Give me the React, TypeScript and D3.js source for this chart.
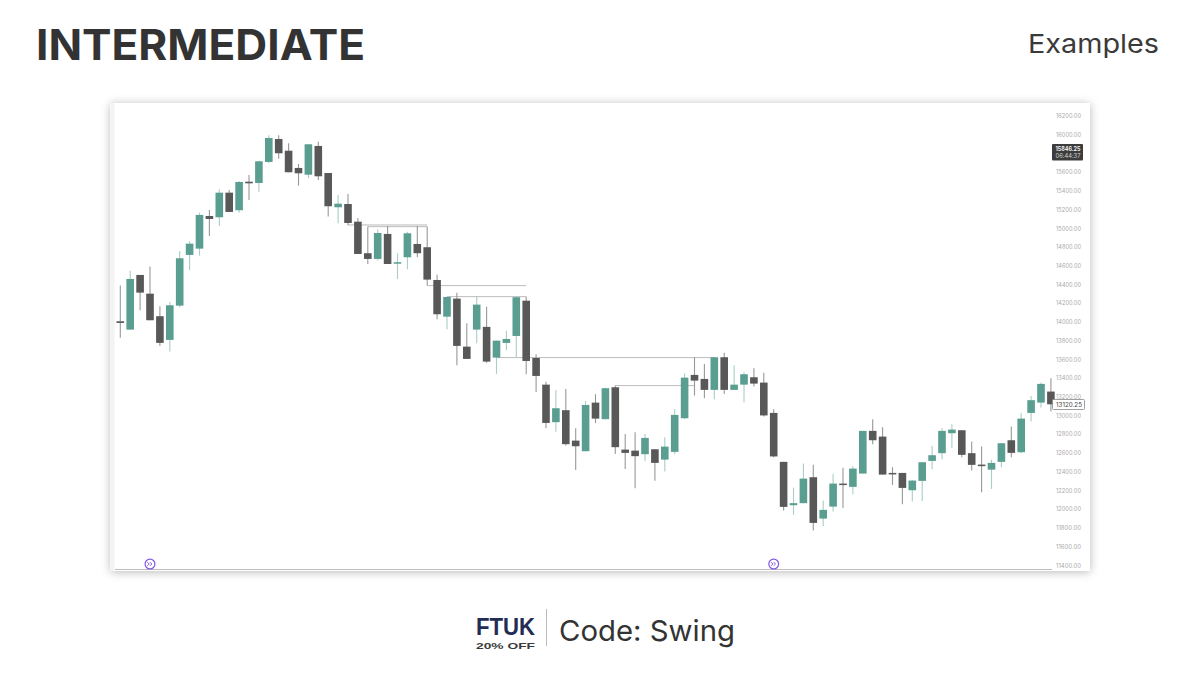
import React, { useEffect, useRef } from "react";
import * as d3 from "d3";

const opens = [14007,13918,14502,14302,14061,13808,14174,14716,14783,15132,15118,15381,15193,15498,15484,15709,15954,15829,15645,15573,15880,15591,15225,15260,15071,14734,14673,14940,14623,14691,14833,14798,14448,14056,14249,13736,13918,13947,13619,13776,13850,14227,13615,13330,12929,13057,12732,12619,13138,12961,13302,12636,12625,12587,12640,12529,12612,12971,13434,13391,13274,13623,13274,13330,13409,13352,13028,12505,12042,12064,12341,11899,12027,12273,12238,12380,12836,12775,12387,12387,12202,12302,12515,12598,12811,12843,12598,12476,12422,12505,12736,12608,13028,13138,13256];
const closes = [13989,14459,14313,14018,13776,14178,14680,14836,15143,15100,15381,15175,15495,15481,15716,15965,15802,15599,15588,15898,15556,15236,15263,15057,14726,14673,14950,14619,14638,14947,14734,14452,14082,14267,13744,13605,14185,13576,13800,13818,14264,13583,13423,12921,13078,12694,12672,13113,12967,13292,12662,12601,12566,12761,12494,12668,13007,13405,13373,13274,13623,13274,13330,13441,13341,13001,12563,12024,12064,12326,11853,11992,12273,12262,12433,12836,12736,12369,12376,12227,12305,12501,12576,12836,12850,12580,12473,12459,12494,12704,12601,12967,13164,13338,13120];
const highs = [14388,14548,14502,14591,14168,14214,14758,14862,15167,15196,15417,15410,15506,15570,15723,15994,15994,15908,15687,15898,15926,15591,15356,15367,15107,15018,14990,15025,14734,14964,15025,15018,14505,14267,14313,13986,14270,14163,13800,13907,14278,14270,13655,13362,13274,13284,12865,13156,13228,13298,13320,12804,12822,12804,12640,12769,13071,13452,13623,13551,13623,13672,13538,13463,13505,13458,13068,12505,12230,12487,12473,12091,12377,12441,12462,12836,12961,12875,12448,12387,12312,12501,12676,12865,12907,12843,12722,12668,12529,12704,12882,13025,13210,13352,13399];
const lows = [13832,13915,14125,14018,13744,13683,14157,14555,14708,14918,15025,15175,15167,15303,15392,15695,15744,15599,15456,15535,15517,15125,15054,15033,14726,14619,14655,14619,14459,14563,14691,14388,14029,13922,13538,13605,13772,13565,13445,13701,13619,13441,13252,12865,12828,12679,12419,12619,12918,12961,12590,12430,12224,12515,12302,12401,12587,12961,13213,13185,13174,13231,13274,13142,13309,12989,12553,11985,11939,12064,11771,11821,11974,12013,12160,12380,12694,12369,12259,12053,12081,12088,12427,12534,12657,12555,12412,12181,12216,12448,12555,12598,12935,13085,13042];

// swing levels: price, first candle, last candle
const levelPrices = [15036, 15018, 14388, 14270, 13619, 13320];
const levelStarts = [23, 25, 31, 33, 38, 50];
const levelEnds = [31, 31, 41, 41, 60, 58];

const priceTicks = d3.range(11400, 16201, 200).filter((t) => t !== 15800);
const markerCandles = [3, 66];

const GREEN = "#5a9e91";
const DARK = "#585858";
const PURPLE = "#8257e6";
const FONT = "Inter, 'Noto Sans', sans-serif";
const LOGO_FONT = "'Liberation Sans', sans-serif";

const App = () => {
  const svgRef = useRef<SVGSVGElement>(null);

  useEffect(() => {
    const svg = d3.select(svgRef.current);
    svg.selectAll("*").remove();

    const x = d3.scaleLinear().domain([0, 94]).range([120.3, 1050.9]);
    const y = d3.scaleLinear().domain([11400, 16200]).range([565.3, 116]);

    const defs = svg.append("defs");
    const shadow = defs
      .append("filter")
      .attr("id", "card-shadow")
      .attr("x", "-5%")
      .attr("y", "-5%")
      .attr("width", "110%")
      .attr("height", "110%");
    shadow
      .append("feDropShadow")
      .attr("dx", 0)
      .attr("dy", 1)
      .attr("stdDeviation", 5)
      .attr("flood-color", "#000")
      .attr("flood-opacity", 0.28);

    svg.append("rect").attr("width", 1200).attr("height", 675).attr("fill", "#fff");

    // heading
    svg
      .append("text")
      .attr("x", 36)
      .attr("y", 60)
      .attr("font-family", FONT)
      .attr("font-size", 42)
      .attr("font-weight", 700)
      .attr("fill", "#333")
      .attr("textLength", 329)
      .attr("lengthAdjust", "spacingAndGlyphs")
      .text("INTERMEDIATE");
    svg
      .append("text")
      .attr("x", 1028)
      .attr("y", 53)
      .attr("font-family", FONT)
      .attr("font-size", 26)
      .attr("fill", "#3a3a3a")
      .attr("textLength", 131)
      .attr("lengthAdjust", "spacingAndGlyphs")
      .text("Examples");

    // chart card
    svg
      .append("rect")
      .attr("x", 110.5)
      .attr("y", 103)
      .attr("width", 979.5)
      .attr("height", 468)
      .attr("fill", "#fff")
      .attr("filter", "url(#card-shadow)");
    svg
      .append("rect")
      .attr("x", 110.5)
      .attr("y", 103)
      .attr("width", 4)
      .attr("height", 468)
      .attr("fill", "#f3f3f3");
    svg
      .append("line")
      .attr("x1", 115)
      .attr("x2", 1052)
      .attr("y1", 569.5)
      .attr("y2", 569.5)
      .attr("stroke", "#bdbdbd")
      .attr("stroke-width", 1);

    // levels
    const levels = svg.append("g").attr("stroke", "#bcbcbc").attr("stroke-width", 1);
    levelPrices.forEach((p, i) => {
      levels
        .append("line")
        .attr("x1", x(levelStarts[i]))
        .attr("x2", x(levelEnds[i]))
        .attr("y1", y(p))
        .attr("y2", y(p));
    });

    // candles
    const candles = svg
      .append("g")
      .selectAll("g")
      .data(opens.map((o, i) => i))
      .join("g");
    candles
      .append("line")
      .attr("x1", (i) => x(i))
      .attr("x2", (i) => x(i))
      .attr("y1", (i) => y(highs[i]))
      .attr("y2", (i) => y(lows[i]))
      .attr("stroke", (i) => (closes[i] >= opens[i] ? "#a8cec7" : "#989898"))
      .attr("stroke-width", 1.1);
    candles
      .append("rect")
      .attr("x", (i) => x(i) - 3.8)
      .attr("width", 7.6)
      .attr("y", (i) => y(Math.max(opens[i], closes[i])))
      .attr("height", (i) => Math.max(1.5, Math.abs(y(opens[i]) - y(closes[i]))))
      .attr("fill", (i) => (closes[i] >= opens[i] ? GREEN : DARK));

    // price axis
    svg
      .append("g")
      .selectAll("text")
      .data(priceTicks)
      .join("text")
      .attr("x", 1056)
      .attr("y", (t) => y(t) + 2.2)
      .attr("font-family", FONT)
      .attr("font-size", 6)
      .attr("fill", "#aaa")
      .attr("textLength", 25)
      .attr("lengthAdjust", "spacingAndGlyphs")
      .text((t) => `${t}.00`);

    // last price tags
    svg
      .append("rect")
      .attr("x", 1052)
      .attr("y", 144)
      .attr("width", 31)
      .attr("height", 16.5)
      .attr("rx", 1)
      .attr("fill", "#3c3c3c");
    svg
      .append("text")
      .attr("x", 1055.5)
      .attr("y", 150.5)
      .attr("font-family", FONT)
      .attr("font-size", 6)
      .attr("font-weight", 600)
      .attr("fill", "#fff")
      .attr("textLength", 25)
      .attr("lengthAdjust", "spacingAndGlyphs")
      .text("15846.25");
    svg
      .append("text")
      .attr("x", 1055.5)
      .attr("y", 158)
      .attr("font-family", FONT)
      .attr("font-size", 6)
      .attr("fill", "#d5d5d5")
      .attr("textLength", 25)
      .attr("lengthAdjust", "spacingAndGlyphs")
      .text("06:44:37");
    svg
      .append("rect")
      .attr("x", 1052.5)
      .attr("y", 399.5)
      .attr("width", 32)
      .attr("height", 10)
      .attr("rx", 1)
      .attr("fill", "#fff")
      .attr("stroke", "#888")
      .attr("stroke-width", 0.8);
    svg
      .append("text")
      .attr("x", 1056)
      .attr("y", 406.8)
      .attr("font-family", FONT)
      .attr("font-size", 6.2)
      .attr("fill", "#444")
      .attr("textLength", 26)
      .attr("lengthAdjust", "spacingAndGlyphs")
      .text("13120.25");

    // session markers
    const markers = svg
      .append("g")
      .selectAll("g")
      .data(markerCandles)
      .join("g")
      .attr("transform", (c) => `translate(${x(c)},564)`);
    markers
      .append("circle")
      .attr("r", 4.9)
      .attr("fill", "#fff")
      .attr("stroke", PURPLE)
      .attr("stroke-width", 1.2);
    markers
      .append("path")
      .attr("d", d3.line()([[-2.6, -1.8], [-0.8, 0], [-2.6, 1.8]]))
      .attr("fill", "none")
      .attr("stroke", PURPLE)
      .attr("stroke-width", 1);
    markers
      .append("path")
      .attr("d", d3.line()([[0, -1.8], [1.8, 0], [0, 1.8]]))
      .attr("fill", "none")
      .attr("stroke", PURPLE)
      .attr("stroke-width", 1);

    // footer
    svg
      .append("text")
      .attr("x", 476)
      .attr("y", 635)
      .attr("font-family", LOGO_FONT)
      .attr("font-size", 24)
      .attr("font-weight", 700)
      .attr("fill", "#232c55")
      .attr("textLength", 59)
      .attr("lengthAdjust", "spacingAndGlyphs")
      .text("FTUK");
    svg
      .append("text")
      .attr("x", 476)
      .attr("y", 648.5)
      .attr("font-family", LOGO_FONT)
      .attr("font-size", 9.5)
      .attr("font-weight", 700)
      .attr("fill", "#3a3a3a")
      .attr("textLength", 59)
      .attr("lengthAdjust", "spacingAndGlyphs")
      .text("20% OFF");
    svg
      .append("line")
      .attr("x1", 546.5)
      .attr("x2", 546.5)
      .attr("y1", 609)
      .attr("y2", 646)
      .attr("stroke", "#bbb");
    svg
      .append("text")
      .attr("x", 559)
      .attr("y", 641)
      .attr("font-family", FONT)
      .attr("font-size", 29)
      .attr("fill", "#333")
      .attr("textLength", 176)
      .attr("lengthAdjust", "spacingAndGlyphs")
      .text("Code: Swing");
  }, []);

  return (
    <svg
      ref={svgRef}
      width={1200}
      height={675}
      style={{ position: "absolute", left: 0, top: 0 }}
    ></svg>
  );
};

export default App;
